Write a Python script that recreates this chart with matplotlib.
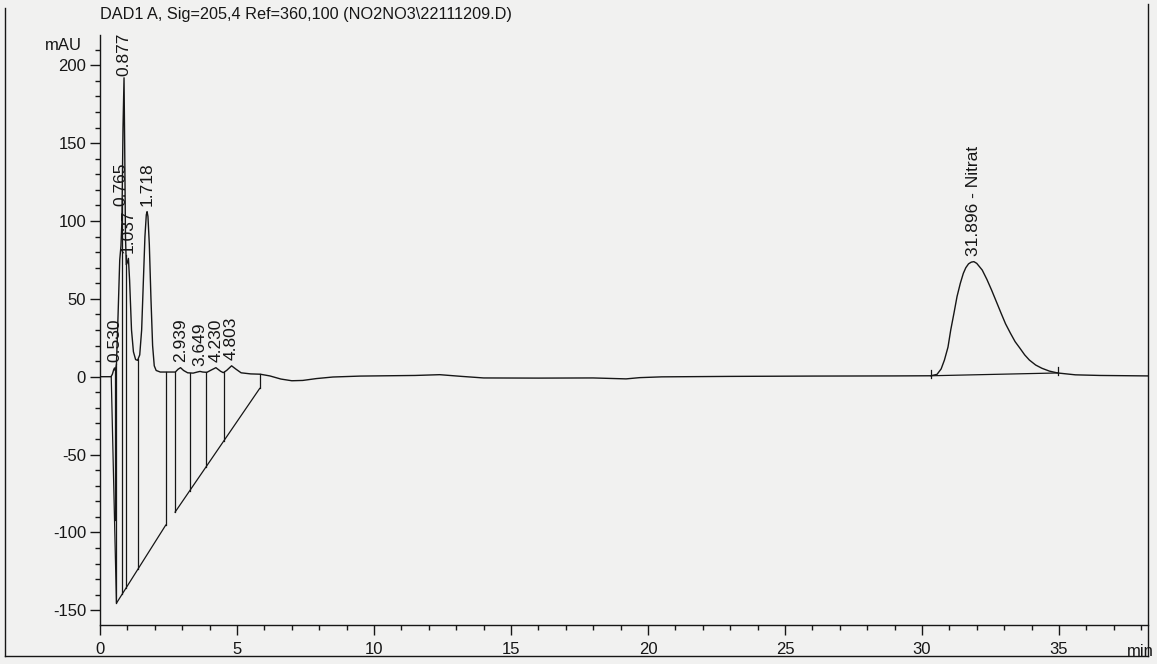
import numpy as np
import matplotlib
matplotlib.use("Agg")
import matplotlib.pyplot as plt
from matplotlib.lines import Line2D
from matplotlib.ticker import MultipleLocator

plt.rcParams["font.family"] = ["Liberation Sans", "DejaVu Sans"]
plt.rcParams["axes.unicode_minus"] = False

title = "DAD1 A, Sig=205,4 Ref=360,100 (NO2NO3\\22111209.D)"

# Detector trace: retention time (min) and absorbance (mAU)
time_min = [
    0.00, 0.40, 0.45, 0.50, 0.53, 0.56, 0.60, 0.66, 0.72, 0.765,
    0.80, 0.84, 0.877, 0.90, 0.93, 0.96, 0.99, 1.037, 1.08, 1.15,
    1.22, 1.30, 1.37, 1.45, 1.52, 1.58, 1.64, 1.69, 1.718, 1.75,
    1.80, 1.86, 1.92, 1.98, 2.05, 2.20, 2.50, 2.75, 2.85, 2.939,
    3.05, 3.20, 3.40, 3.55, 3.649, 3.75, 3.90, 4.05, 4.230, 4.40,
    4.50, 4.62, 4.803, 4.95, 5.15, 5.50, 5.85, 6.20, 6.60, 7.00,
    7.40, 7.90, 8.50, 9.50, 10.5, 11.5, 12.4, 13.2, 14.0, 16.0,
    18.0, 19.2, 19.7, 20.5, 23.0, 26.0, 29.0, 30.32, 30.55, 30.70,
    30.82, 30.95, 31.05, 31.17, 31.28, 31.40, 31.51, 31.60, 31.70, 31.80,
    31.896, 32.00, 32.20, 32.37, 32.54, 32.72, 32.89, 33.05, 33.23, 33.40,
    33.58, 33.75, 33.92, 34.15, 34.38, 34.65, 34.95, 35.60, 36.50, 38.25,
]
signal_mau = [
    0.0, 0.0, 1.5, 4.5, 5.6, 4.0, 8.0, 40.0, 75.0, 84.0,
    100.0, 160.0, 192.0, 150.0, 90.0, 72.0, 73.0, 76.0, 62.0, 30.0,
    16.0, 11.0, 10.5, 14.0, 30.0, 60.0, 90.0, 104.0, 106.0, 103.0,
    85.0, 50.0, 20.0, 7.0, 4.0, 3.0, 3.0, 3.0, 4.8, 5.8,
    4.0, 2.5, 2.3, 3.0, 3.4, 3.0, 2.8, 4.2, 5.8, 3.5,
    2.6, 4.0, 7.0, 5.0, 2.5, 1.8, 1.6, 0.5, -1.5, -2.6,
    -2.4, -1.2, -0.2, 0.4, 0.6, 0.8, 1.3, 0.2, -0.8, -0.9,
    -0.8, -1.4, -0.6, -0.1, 0.2, 0.4, 0.5, 0.6, 1.5, 5.0,
    10.7, 19.0, 30.0, 41.0, 51.5, 60.0, 66.4, 70.0, 72.5, 73.6,
    73.9, 72.8, 68.5, 62.5, 55.7, 48.0, 40.7, 34.0, 27.9, 22.5,
    18.2, 14.0, 10.7, 7.5, 5.4, 3.6, 2.4, 1.2, 0.8, 0.5,
]

# Peak table
peak_rt = [0.530, 0.765, 0.877, 1.037, 1.718, 2.939, 3.649, 4.230, 4.803, 31.896]
peak_name = ["", "", "", "", "", "", "", "", "", "Nitrat"]

# Integration events: drop lines and the baselines they end on
drop_times = [0.53, 0.60, 0.81, 0.95, 1.39, 2.40, 2.74, 3.28, 3.86, 4.52, 5.83]
base_a_t = [0.41, 0.60, 2.40]
base_a_v = [0.0, -145.5, -95.3]
base_b_t = [2.74, 5.83]
base_b_v = [-87.0, -7.5]
nitrat_base_t = [30.32, 34.95]
nitrat_base_v = [0.6, 2.4]

W, H = 1157, 664
fig = plt.figure(figsize=(W / 100, H / 100), dpi=100)
paper = "#f1f1f0"
fig.patch.set_facecolor(paper)

ax = fig.add_axes([100 / W, 1 - 625 / H, (1148 - 100) / W, (625 - 35) / H])
ax.set_facecolor(paper)
ax.set_xlim(0, 38.25)
ax.set_ylim(-159.5, 219.5)

ink = "#161616"
t = np.asarray(time_min)
s = np.asarray(signal_mau)
ax.plot(t, s, color=ink, lw=1.0, solid_joinstyle="round")

# Integration baselines
for bt, bv in ((base_a_t, base_a_v), (base_b_t, base_b_v), (nitrat_base_t, nitrat_base_v)):
    ax.plot(bt, bv, color=ink, lw=0.9)

# Drop lines from the trace down to the baseline
for dt in drop_times:
    if base_a_t[0] <= dt <= base_a_t[-1]:
        low = np.interp(dt, base_a_t, base_a_v)
    else:
        low = np.interp(dt, base_b_t, base_b_v)
    ax.plot([dt, dt], [np.interp(dt, t, s), low], color=ink, lw=0.9)

# Start/stop marks of the Nitrat peak
for bt, bv in zip(nitrat_base_t, nitrat_base_v):
    ax.plot([bt, bt], [bv - 1.5, bv + 4.0], color=ink, lw=0.9)

# Retention time labels above each apex
for rt, name in zip(peak_rt, peak_name):
    label = f"{rt:.3f}" + (f" - {name}" if name else "")
    lift = 4
    if rt == 0.877:
        lift = 1
    elif rt == 0.765:
        lift = 29
    ax.annotate(label, (rt, np.interp(rt, t, s)), xytext=(0, lift),
                textcoords="offset points", rotation=90, ha="center",
                va="bottom", fontsize=12.5, color=ink)

for side in ("top", "right"):
    ax.spines[side].set_visible(False)
for side in ("left", "bottom"):
    ax.spines[side].set_color(ink)
    ax.spines[side].set_linewidth(1.0)

ax.xaxis.set_major_locator(MultipleLocator(5))
ax.xaxis.set_minor_locator(MultipleLocator(1))
ax.yaxis.set_major_locator(MultipleLocator(50))
ax.yaxis.set_minor_locator(MultipleLocator(10))
ax.tick_params(which="major", direction="out", length=7, width=1, colors=ink,
               labelsize=12, labelcolor=ink)
ax.tick_params(which="minor", direction="out", length=3.5, width=1, colors=ink)
ax.tick_params(axis="x", which="major", pad=5)
ax.tick_params(axis="y", which="major", pad=3)

fig.text(100 / W, 1 - 15 / H, title, ha="left", va="center", fontsize=11.7, color=ink)
fig.text(82 / W, 1 - 46 / H, "mAU", ha="right", va="center", fontsize=12, color=ink)
fig.text(1140 / W, 1 - 652 / H, "min", ha="center", va="center", fontsize=12, color=ink)

# Page frame
fig.add_artist(Line2D([5 / W, 5 / W], [1 - 8 / H, 1 - 656 / H], color=ink, lw=1.0))
fig.add_artist(Line2D([5 / W, 1148 / W], [1 - 656 / H, 1 - 656 / H], color=ink, lw=1.0))
fig.add_artist(Line2D([1148 / W, 1148 / W], [1 - 4 / H, 1 - 656 / H], color=ink, lw=1.0))

fig.savefig("out.png", dpi=100, facecolor=paper)
